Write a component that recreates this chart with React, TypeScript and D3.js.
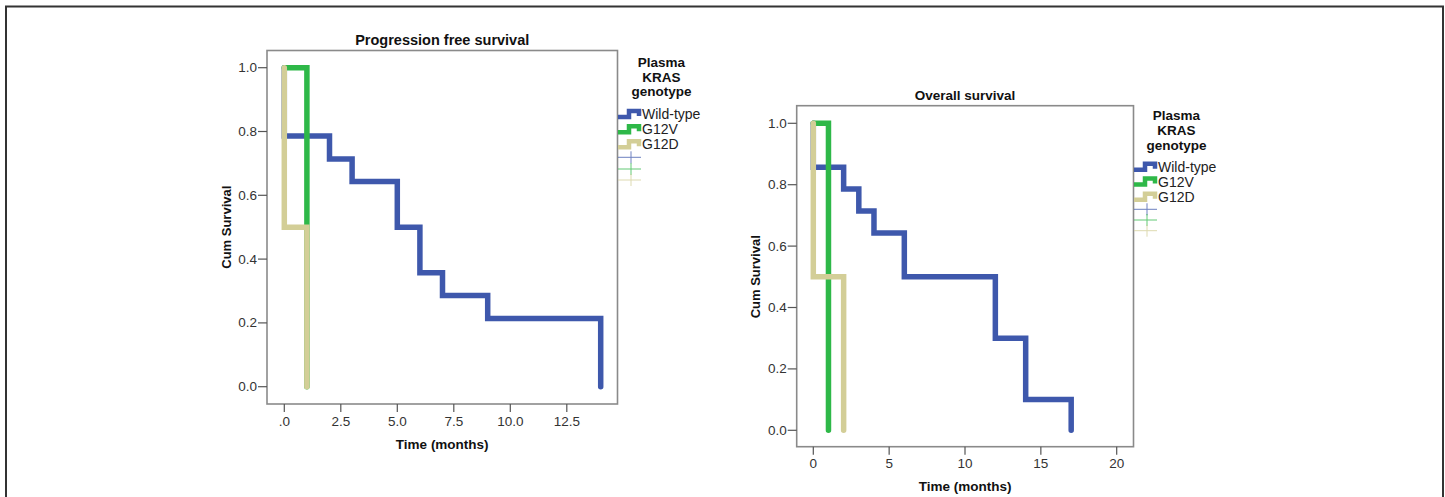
import React from "react";
import * as d3 from "d3";

// ---------- data ----------
const groups = ["Wild-type", "G12V", "G12D"];
const groupColors = ["#3e58ac", "#2eb848", "#d3ce97"];

// Progression free survival (months, cumulative survival)
const pfsWildTimes = [0, 0, 2, 3, 5, 6, 7, 9, 14];
const pfsWildSurv = [1, 0.786, 0.714, 0.643, 0.5, 0.357, 0.286, 0.214, 0];
const pfsG12VTimes = [0, 1];
const pfsG12VSurv = [1, 0];
const pfsG12DTimes = [0, 0, 1];
const pfsG12DSurv = [1, 0.5, 0];

// Overall survival
const osWildTimes = [0, 0, 2, 3, 4, 6, 12, 14, 17];
const osWildSurv = [1, 0.857, 0.786, 0.714, 0.643, 0.5, 0.3, 0.1, 0];
const osG12VTimes = [0, 1];
const osG12VSurv = [1, 0];
const osG12DTimes = [0, 0, 2];
const osG12DSurv = [1, 0.5, 0];

const yTicks = [0, 0.2, 0.4, 0.6, 0.8, 1.0];
const pfsXTicks = [0, 2.5, 5, 7.5, 10, 12.5];
const pfsXTickLabels = [".0", "2.5", "5.0", "7.5", "10.0", "12.5"];
const osXTicks = [0, 5, 10, 15, 20];
const osXTickLabels = ["0", "5", "10", "15", "20"];

const legendTitle = ["Plasma", "KRAS", "genotype"];

type Panel = {
  title: string;
  titleSize: number;
  titleY: number;
  frame: { x0: number; x1: number; y0: number; y1: number };
  xDomain: [number, number];
  xRange: [number, number];
  yRange: [number, number];
  xTicks: number[];
  xTickLabels: string[];
  series: { t: number[]; s: number[] }[];
  legend: { cx: number; titleY: number[]; x0: number; itemY: number[]; crossY: number[] };
  tickLabelY: number;
  xTitleY: number;
  yTitleX: number;
};

const panels: Panel[] = [
  {
    title: "Progression free survival",
    titleSize: 14.5,
    titleY: 40,
    frame: { x0: 267, x1: 617.5, y0: 50.5, y1: 404 },
    xDomain: [0, 14],
    xRange: [284.3, 600.7],
    yRange: [386.7, 67.7],
    xTicks: pfsXTicks,
    xTickLabels: pfsXTickLabels,
    series: [
      { t: pfsWildTimes, s: pfsWildSurv },
      { t: pfsG12VTimes, s: pfsG12VSurv },
      { t: pfsG12DTimes, s: pfsG12DSurv },
    ],
    legend: {
      cx: 661.5,
      titleY: [62.7, 77.7, 91.7],
      x0: 618,
      itemY: [114, 129.3, 144.3],
      crossY: [157.3, 169, 180],
    },
    tickLabelY: 421.7,
    xTitleY: 444,
    yTitleX: 226,
  },
  {
    title: "Overall survival",
    titleSize: 13.5,
    titleY: 95,
    frame: { x0: 796.7, x1: 1133.5, y0: 105.7, y1: 446.7 },
    xDomain: [0, 20],
    xRange: [813.3, 1116.7],
    yRange: [430.3, 123.3],
    xTicks: osXTicks,
    xTickLabels: osXTickLabels,
    series: [
      { t: osWildTimes, s: osWildSurv },
      { t: osG12VTimes, s: osG12VSurv },
      { t: osG12DTimes, s: osG12DSurv },
    ],
    legend: {
      cx: 1176.5,
      titleY: [115.5, 130.5, 145.5],
      x0: 1134,
      itemY: [166.7, 181.5, 196.7],
      crossY: [209.3, 220, 230.7],
    },
    tickLabelY: 463.3,
    xTitleY: 486,
    yTitleX: 755,
  },
];

const FONT = "'Liberation Sans', Arial, sans-serif";

function PanelView({ p }: { p: Panel }) {
  const x = d3.scaleLinear().domain(p.xDomain).range(p.xRange);
  const y = d3.scaleLinear().domain([0, 1]).range(p.yRange);
  const line = d3
    .line<[number, number]>()
    .x((d) => x(d[0]))
    .y((d) => y(d[1]))
    .curve(d3.curveStepAfter);
  const f = p.frame;
  const midX = (f.x0 + f.x1) / 2;
  const midY = (y(0) + y(1)) / 2;
  return (
    <g>
      <text
        x={midX}
        y={p.titleY}
        textAnchor="middle"
        dominantBaseline="central"
        fontFamily={FONT}
        fontWeight="bold"
        fontSize={p.titleSize}
        fill="#111"
      >
        {p.title}
      </text>
      <rect
        x={f.x0}
        y={f.y0}
        width={f.x1 - f.x0}
        height={f.y1 - f.y0}
        fill="none"
        stroke="#8a8a8a"
        strokeWidth={1.6}
      />
      {yTicks.map((v) => (
        <g key={"y" + v}>
          <line x1={f.x0 - 9} x2={f.x0} y1={y(v)} y2={y(v)} stroke="#555" strokeWidth={1.2} />
          <text
            x={f.x0 - 10}
            y={y(v)}
            textAnchor="end"
            dominantBaseline="central"
            fontFamily={FONT}
            fontSize={13.5}
            fill="#333"
          >
            {v.toFixed(1)}
          </text>
        </g>
      ))}
      {p.xTicks.map((v, i) => (
        <g key={"x" + v}>
          <line x1={x(v)} x2={x(v)} y1={f.y1} y2={f.y1 + 8} stroke="#555" strokeWidth={1.2} />
          <text
            x={x(v)}
            y={p.tickLabelY}
            textAnchor="middle"
            dominantBaseline="central"
            fontFamily={FONT}
            fontSize={13.5}
            fill="#333"
          >
            {p.xTickLabels[i]}
          </text>
        </g>
      ))}
      <text
        x={midX}
        y={p.xTitleY}
        textAnchor="middle"
        dominantBaseline="central"
        fontFamily={FONT}
        fontWeight="bold"
        fontSize={13.5}
        fill="#111"
      >
        Time (months)
      </text>
      <text
        transform={`translate(${p.yTitleX},${midY}) rotate(-90)`}
        textAnchor="middle"
        dominantBaseline="central"
        fontFamily={FONT}
        fontWeight="bold"
        fontSize={13}
        fill="#111"
      >
        Cum Survival
      </text>
      {p.series.map((s, i) => {
        const pts = s.t.map((t, k) => [t, s.s[k]] as [number, number]);
        return (
          <path
            key={"s" + i}
            d={line(pts) || ""}
            fill="none"
            stroke={groupColors[i]}
            strokeWidth={5.5}
            strokeLinecap="round"
            strokeLinejoin="miter"
          />
        );
      })}
      {legendTitle.map((t, i) => (
        <text
          key={"lt" + i}
          x={p.legend.cx}
          y={p.legend.titleY[i]}
          textAnchor="middle"
          dominantBaseline="central"
          fontFamily={FONT}
          fontWeight="bold"
          fontSize={13.5}
          fill="#111"
        >
          {t}
        </text>
      ))}
      {groups.map((g, i) => {
        const x0 = p.legend.x0;
        const yy = p.legend.itemY[i];
        return (
          <g key={"li" + i}>
            <path
              d={`M${x0},${yy + 3}H${x0 + 11}V${yy - 3}H${x0 + 21}V${yy + 2}`}
              fill="none"
              stroke={groupColors[i]}
              strokeWidth={4.5}
            />
            <text
              x={x0 + 24}
              y={yy}
              dominantBaseline="central"
              fontFamily={FONT}
              fontSize={14}
              fill="#222"
            >
              {g}
            </text>
          </g>
        );
      })}
      {groups.map((g, i) => {
        const x0 = p.legend.x0;
        const yy = p.legend.crossY[i];
        return (
          <g key={"lc" + i} opacity={0.75}>
            <line x1={x0} x2={x0 + 23} y1={yy} y2={yy} stroke={groupColors[i]} strokeWidth={1} />
            <line x1={x0 + 13} x2={x0 + 13} y1={yy - 6} y2={yy + 6} stroke={groupColors[i]} strokeWidth={1} />
          </g>
        );
      })}
    </g>
  );
}

export default function App() {
  return (
    <svg
      width={1445}
      height={497}
      style={{ position: "absolute", left: 0, top: 0, background: "#fff" }}
    >
      <rect x={0} y={0} width={1445} height={497} fill="#fff" />
      <rect x={6} y={6.5} width={1437} height={520} fill="none" stroke="#333" strokeWidth={2} />
      {panels.map((p, i) => (
        <PanelView key={i} p={p} />
      ))}
    </svg>
  );
}
